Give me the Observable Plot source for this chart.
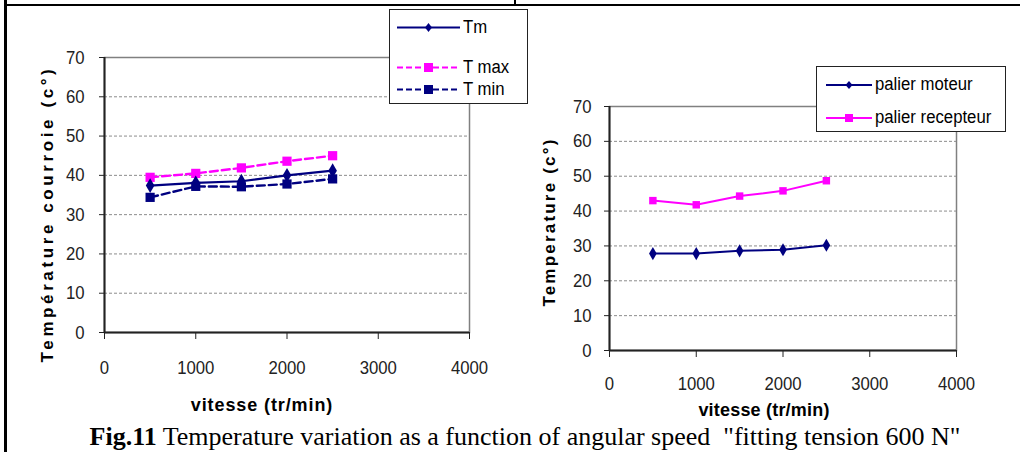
<!DOCTYPE html>
<html><head><meta charset="utf-8">
<script src="https://cdn.jsdelivr.net/npm/d3@7"></script>
<script src="https://cdn.jsdelivr.net/npm/@observablehq/plot@0.6"></script>
<style>
body{margin:0;background:#fff;}
#wrap{position:relative;width:1026px;height:452px;overflow:hidden;background:#fff;}
.abs{position:absolute;}
.narrow{font-family:"Liberation Sans",Arial,sans-serif;}
.ytitle{font-family:"Liberation Sans",Arial,sans-serif;font-weight:bold;font-size:17px;color:#000;white-space:nowrap;transform:translate(-50%,-50%) rotate(-90deg);}
.xtitle{font-family:"Liberation Sans",Arial,sans-serif;font-weight:bold;font-size:18px;color:#000;white-space:nowrap;transform:translate(-50%,-50%);}
.legend{border:1px solid #222;background:#fff;box-sizing:border-box;}
.leg-item{position:absolute;display:flex;align-items:center;font-size:18px;color:#000;white-space:nowrap;}
.leg-item svg{display:block;margin-right:3px;}
.leg-item span{display:inline-block;transform:scaleX(0.93);transform-origin:left center;}
</style></head><body><div id="wrap"></div>
<script>
// ---- data ----
const speeds = [500, 1000, 1500, 2000, 2500];
const tm = [37.4, 38.1, 38.5, 40.0, 41.2];
const tmax = [39.5, 40.5, 41.9, 43.6, 45.0];
const tmin = [34.4, 37.2, 37.1, 37.8, 39.1];
const palierMoteur = [27.8, 27.8, 28.6, 28.9, 30.2];
const palierRecepteur = [43.0, 41.8, 44.3, 45.8, 48.7];
const xTicks = [0, 1000, 2000, 3000, 4000];
const yTicks = [0, 10, 20, 30, 40, 50, 60, 70];
const gridTicks = [10, 20, 30, 40, 50, 60];
const leftSeries = ["Tm", "T max", "T min"];
const rightSeries = ["palier moteur", "palier recepteur"];
const xTitle = "vitesse (tr/min)";
const yTitleLeft = "Température courroie (c°)";
const yTitleRight = "Temperature (c°)";
const captionBold = "Fig.11";
const captionText = " Temperature variation as a function of angular speed \u00a0\"fitting tension 600 N\"";

const NAVY = "#000080", MAGENTA = "#ff00ff";
const toRows = (vals) => speeds.map((s, i) => ({x: s, y: vals[i]}));

const wrap = document.getElementById("wrap");
function add(html, cls, style) {
  const d = document.createElement("div");
  d.className = "abs " + (cls || "");
  Object.assign(d.style, style || {});
  d.innerHTML = html;
  wrap.appendChild(d);
  return d;
}

// frame lines of the table cell
add("", "", {left: "4px", top: "0px", width: "3px", height: "452px", background: "#000"});
add("", "", {left: "4px", top: "4px", width: "1016px", height: "2px", background: "#000"});
add("", "", {left: "514px", top: "0px", width: "2px", height: "5px", background: "#000"});

// narrow the tick labels (Arial Narrow look) without moving them
function condense(svg) {
  d3.select(svg).selectAll('g[aria-label="y-axis tick label"] text, g[aria-label="x-axis tick label"] text').each(function () {
    const w = this.getComputedTextLength();
    if (w > 0) {
      this.setAttribute("textLength", (w * 0.88).toFixed(2));
      this.setAttribute("lengthAdjust", "spacingAndGlyphs");
    }
  });
}

function chart(opts) {
  const p = Plot.plot({
    width: opts.width, height: opts.height,
    marginLeft: opts.ml, marginRight: opts.mr, marginTop: opts.mt, marginBottom: opts.mb,
    style: {fontFamily: '"Liberation Sans",Arial,sans-serif', fontSize: "19px", color: "#222", background: "transparent", overflow: "visible"},
    x: {domain: [0, 4000]},
    y: {domain: [0, 70]},
    marks: [
      Plot.ruleY(gridTicks, {stroke: "#8c8c8c", strokeWidth: 1, strokeDasharray: "3,2"}),
      Plot.frame({stroke: "#808080", strokeWidth: 1.5}),
      Plot.ruleX([0], {stroke: "#222", strokeWidth: 2}),
      Plot.ruleY([0], {stroke: "#222", strokeWidth: 2}),
      Plot.axisY({ticks: yTicks, tickSize: 5, tickPadding: opts.yPad, label: null, tickFormat: d => String(d), fill: "#222"}),
      Plot.axisX({ticks: xTicks, tickSize: 7, tickPadding: opts.xPad, label: null, tickFormat: d => String(d), fill: "#222"}),
      ...opts.marks
    ]
  });
  p.style.position = "absolute";
  p.style.left = opts.left + "px";
  p.style.top = "0px";
  wrap.appendChild(p);
  condense(p);
}

// left chart
chart({
  left: 0, width: 515, height: 420, ml: 104, mr: 46, mt: 57, mb: 88, yPad: 15, xPad: 21,
  marks: [
    Plot.line(toRows(tmax), {x: "x", y: "y", stroke: MAGENTA, strokeWidth: 2.4, strokeDasharray: "8,4"}),
    Plot.line(toRows(tmin), {x: "x", y: "y", stroke: NAVY, strokeWidth: 2.4, strokeDasharray: "8,4"}),
    Plot.line(toRows(tm), {x: "x", y: "y", stroke: NAVY, strokeWidth: 2.2}),
    Plot.dot(toRows(tmax), {x: "x", y: "y", symbol: "square", r: 5.2, fill: MAGENTA, stroke: "none"}),
    Plot.dot(toRows(tmin), {x: "x", y: "y", symbol: "square", r: 5.2, fill: NAVY, stroke: "none"}),
    Plot.dot(toRows(tm), {x: "x", y: "y", symbol: "diamond", r: 4.5, fill: NAVY, stroke: "none"})
  ]
});

// right chart
chart({
  left: 515, width: 511, height: 420, ml: 94, mr: 70, mt: 106, mb: 70, yPad: 13, xPad: 19,
  marks: [
    Plot.line(toRows(palierRecepteur), {x: "x", y: "y", stroke: MAGENTA, strokeWidth: 2}),
    Plot.line(toRows(palierMoteur), {x: "x", y: "y", stroke: NAVY, strokeWidth: 2}),
    Plot.dot(toRows(palierRecepteur), {x: "x", y: "y", symbol: "square", r: 4.2, fill: MAGENTA, stroke: "none"}),
    Plot.dot(toRows(palierMoteur), {x: "x", y: "y", symbol: "diamond", r: 4, fill: NAVY, stroke: "none"})
  ]
});

// axis titles
add(yTitleLeft, "ytitle", {left: "48px", top: "214px", letterSpacing: "3.6px"});
add(yTitleRight, "ytitle", {left: "550px", top: "222px", letterSpacing: "2.2px"});
add(xTitle, "xtitle", {left: "262px", top: "405px", letterSpacing: "0.9px"});
add(xTitle, "xtitle", {left: "764px", top: "410px", letterSpacing: "0.2px"});

// legends
function swatch(color, dashed, symbol) {
  const dash = dashed ? 'stroke-dasharray="6,3"' : '';
  const m = symbol === "square"
    ? `<rect x="27" y="5" width="9" height="9" fill="${color}"/>`
    : `<path d="M31.5 5 L35 9.5 L31.5 14 L28 9.5 Z" fill="${color}"/>`;
  return `<svg width="63" height="19"><line x1="0" y1="9.5" x2="63" y2="9.5" stroke="${color}" stroke-width="2.2" ${dash}/>${m}</svg>`;
}
const legL = add("", "legend", {left: "389px", top: "9px", width: "139px", height: "95px"});
const leftSw = [swatch(NAVY, false, "diamond"), swatch(MAGENTA, true, "square"), swatch(NAVY, true, "square")];
const leftY = [17, 57, 79];
leftSeries.forEach((s, i) => {
  const it = document.createElement("div");
  it.className = "leg-item narrow";
  it.style.left = "7px"; it.style.top = (leftY[i] - 10) + "px";
  it.innerHTML = leftSw[i] + `<span>${s}</span>`;
  legL.appendChild(it);
});
function swatch2(color, symbol) {
  const m = symbol === "square"
    ? `<rect x="19" y="6" width="8" height="8" fill="${color}"/>`
    : `<path d="M23 6 L26.5 10 L23 14 L19.5 10 Z" fill="${color}"/>`;
  return `<svg width="46" height="20"><line x1="0" y1="10" x2="46" y2="10" stroke="${color}" stroke-width="2"/>${m}</svg>`;
}
const legR = add("", "legend", {left: "816px", top: "66px", width: "190px", height: "66px"});
const rightSw = [swatch2(NAVY, "diamond"), swatch2(MAGENTA, "square")];
const rightY = [17, 50];
rightSeries.forEach((s, i) => {
  const it = document.createElement("div");
  it.className = "leg-item narrow";
  it.style.left = "9px"; it.style.top = (rightY[i] - 10) + "px";
  it.innerHTML = rightSw[i] + `<span>${s}</span>`;
  legR.appendChild(it);
});

// caption
add(`<b>${captionBold}</b>${captionText}`, "", {left: "24px", width: "1002px", top: "422px", textAlign: "center", fontFamily: '"Liberation Serif","Times New Roman",serif', fontSize: "26px", color: "#000", whiteSpace: "pre"});
</script>
</body></html>
